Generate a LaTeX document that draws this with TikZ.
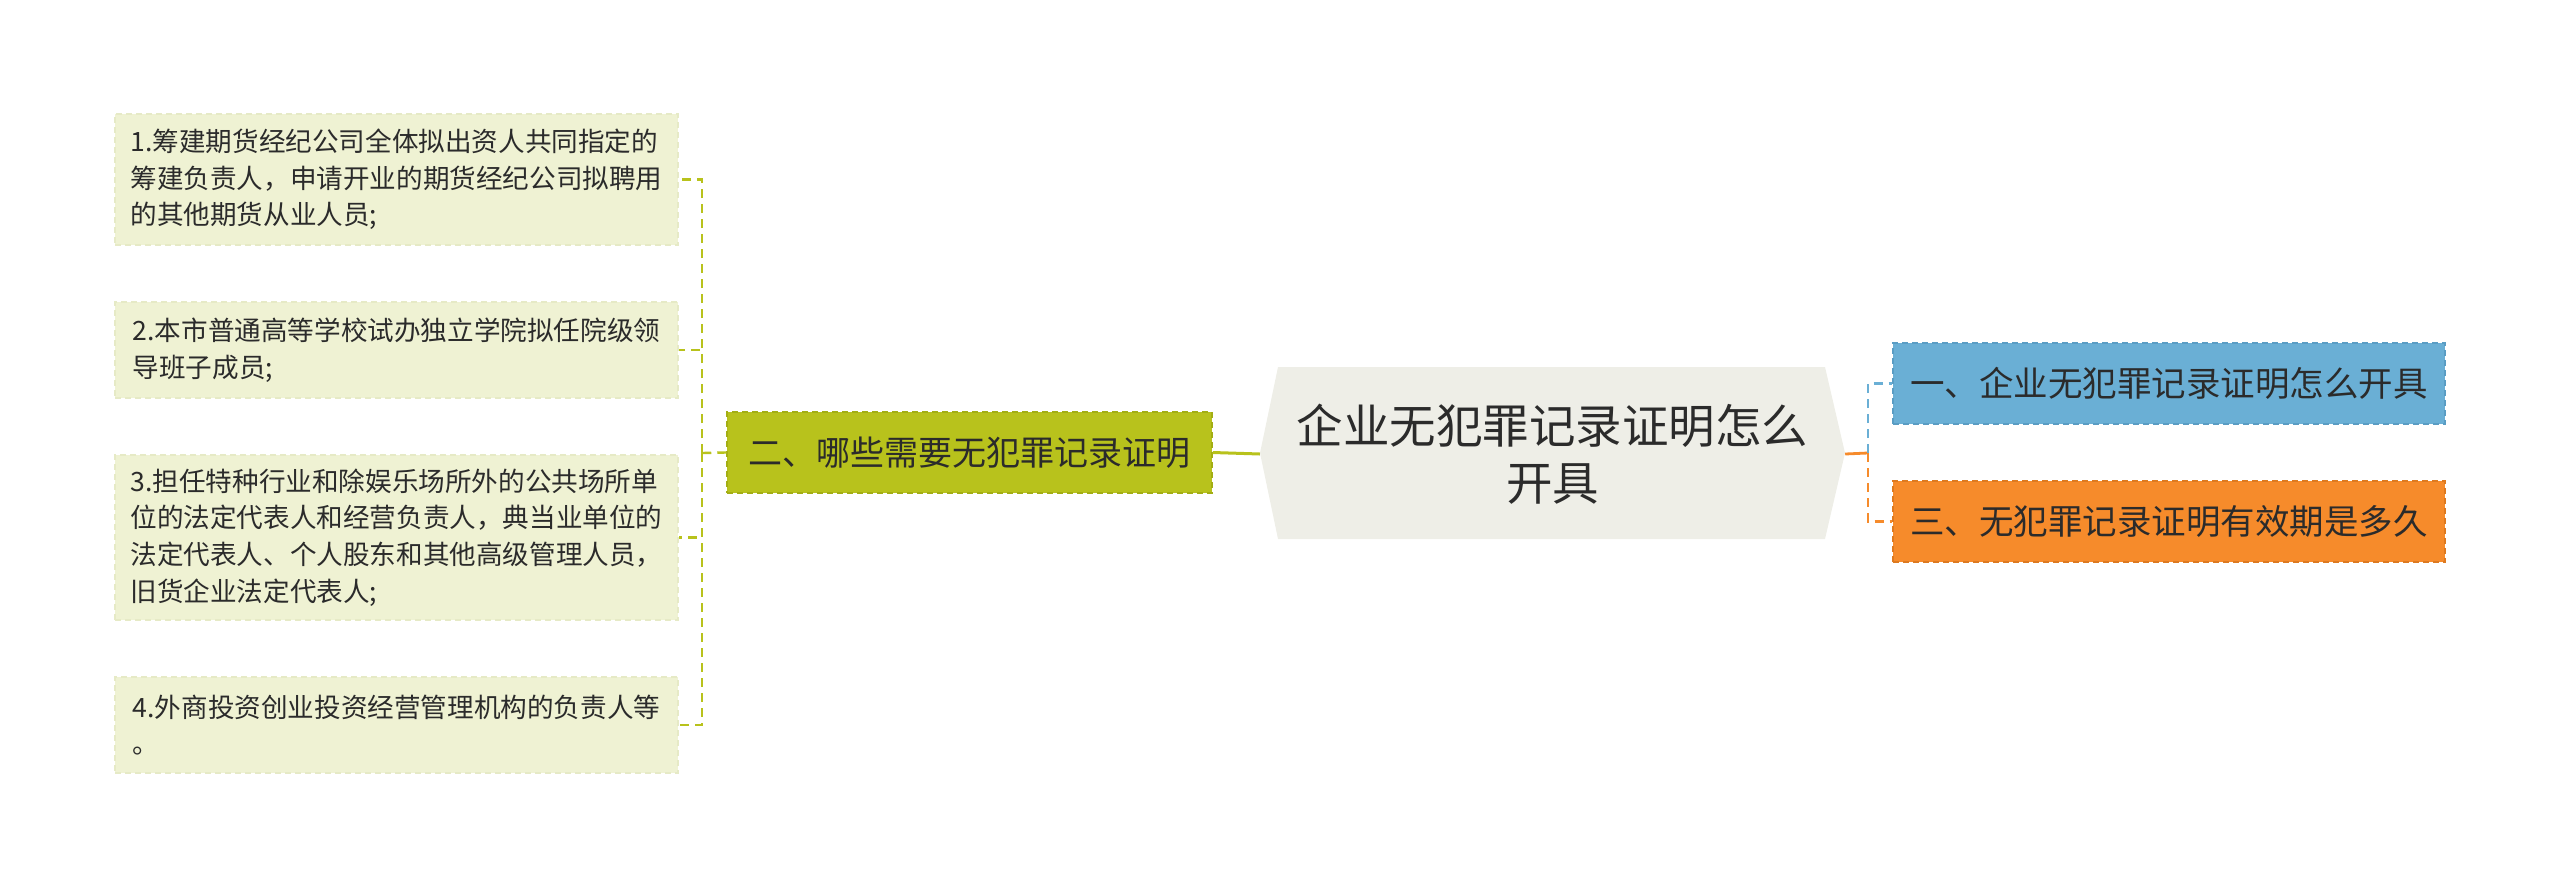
\documentclass[tikz,border=0pt]{standalone}
\usepackage{fontspec}
\setmainfont{Noto Sans CJK SC}
\definecolor{leaffill}{HTML}{EFF2D3}
\definecolor{leafborder}{HTML}{E6EAC6}
\definecolor{olive}{HTML}{B8C21C}
\definecolor{oliveborder}{HTML}{A3AE14}
\definecolor{hexfill}{HTML}{EEEEE7}
\definecolor{bluefill}{HTML}{6AAFD5}
\definecolor{blueborder}{HTML}{5A9DC4}
\definecolor{orangefill}{HTML}{F68B2B}
\definecolor{orangeborder}{HTML}{DE7A20}
\definecolor{textc}{HTML}{2B2B2B}
\tikzset{
  leafbox/.style={fill=leaffill, draw=leafborder, line width=1.5pt, dash pattern=on 6pt off 4pt,
    minimum width=563pt, inner sep=0pt, align=left, text=textc,
    font=\fontsize{26.6pt}{36.7pt}\selectfont},
  midbox/.style={fill=olive, draw=oliveborder, line width=1.5pt, dash pattern=on 6pt off 4pt,
    minimum width=485pt, minimum height=81pt, inner sep=0pt, text=textc,
    font=\fontsize{34pt}{40pt}\selectfont},
  rightbox/.style={line width=1.5pt, dash pattern=on 6pt off 4pt,
    minimum width=552pt, minimum height=81pt, inner sep=0pt, text=textc,
    font=\fontsize{34.5pt}{40pt}\selectfont},
  lconn/.style={draw=olive, line width=2.4pt, dash pattern=on 9pt off 6pt},
  bconn/.style={draw=bluefill, line width=2.8pt, dash pattern=on 9pt off 6pt},
  oconn/.style={draw=orangefill, line width=2.8pt, dash pattern=on 9pt off 6pt},
}
\begin{document}
\begin{tikzpicture}[x=1pt,y=-1pt]
\useasboundingbox (0,0) rectangle (2560,889);

% leaves
\node[leafbox, minimum height=131pt] (l1) at (396.5,179.5)
  {1.筹建期货经纪公司全体拟出资人共同指定的\\筹建负责人，申请开业的期货经纪公司拟聘用\\的其他期货从业人员;};
\node[leafbox, minimum height=96pt] (l2) at (396.5,350)
  {2.本市普通高等学校试办独立学院拟任院级领\\导班子成员;};
\node[leafbox, minimum height=165pt] (l3) at (396.5,537.5)
  {3.担任特种行业和除娱乐场所外的公共场所单\\位的法定代表人和经营负责人，典当业单位的\\法定代表人、个人股东和其他高级管理人员，\\旧货企业法定代表人;};
\node[leafbox, minimum height=96pt] (l4) at (396.5,725)
  {4.外商投资创业投资经营管理机构的负责人等\\。};

% middle node
\node[midbox] (mid) at (969.5,452.5) {二、哪些需要无犯罪记录证明};

% root hexagon
\fill[hexfill] (1260,453) -- (1278,367) -- (1825,367) -- (1845,453) -- (1825,539) -- (1278,539) -- cycle;
\node[minimum width=585pt, minimum height=172pt, inner sep=0pt, align=center, text=textc,
  font=\fontsize{46.5pt}{57pt}\selectfont] (root) at (1552.5,454)
  {企业无犯罪记录证明怎么\\开具};

% right nodes
\node[rightbox, fill=bluefill, draw=blueborder] (b1) at (2169,383.5) {一、企业无犯罪记录证明怎么开具};
\node[rightbox, fill=orangefill, draw=orangeborder] (b3) at (2169,521.5) {三、无犯罪记录证明有效期是多久};

% left connectors
\coordinate (jl) at (702,453);
\draw[lconn] (mid.west) -- (jl);
\draw[lconn] (jl) |- (l1.east);
\draw[lconn] (jl) |- (l2.east);
\draw[lconn] (jl) |- (l3.east);
\draw[lconn] (jl) |- (l4.east);
\draw[draw=olive, line width=3pt] (mid.east) -- (root.west);

% right connectors
\coordinate (jr) at (1868,453);
\draw[draw=orangefill, line width=2.8pt] (root.east) -- (jr);
\draw[bconn] (jr) |- (b1.west);
\draw[oconn] (jr) |- (b3.west);
\end{tikzpicture}
\end{document}
